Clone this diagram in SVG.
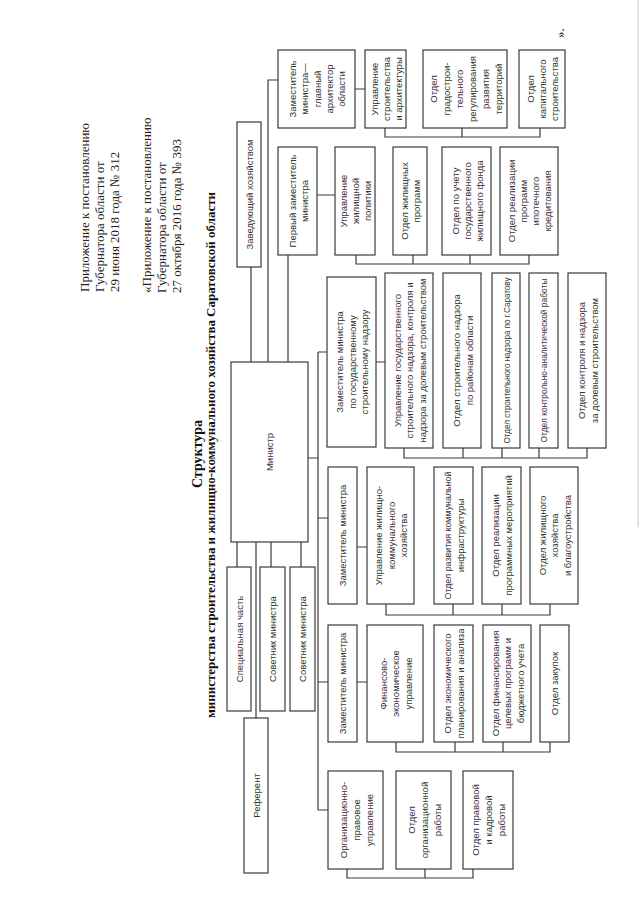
<svg xmlns="http://www.w3.org/2000/svg" width="640" height="905" viewBox="0 0 640 905">
<style>
.bg{fill:#fff}
.box{fill:#fff;stroke:#3a3a3a;stroke-width:1.2}
.c{stroke:#3a3a3a;stroke-width:1.2;fill:none}
.t{font-family:"Liberation Sans",Arial,sans-serif;font-size:9.5px;fill:#333;text-anchor:middle;dominant-baseline:central}
.h{font-family:"Liberation Serif","Times New Roman",serif;font-size:13px;fill:#222;dominant-baseline:central}
.ti{font-family:"Liberation Serif","Times New Roman",serif;font-weight:bold;fill:#111;text-anchor:middle;dominant-baseline:central}
</style>
<rect class="bg" x="0" y="0" width="640" height="905"/>
<line x1="638" y1="0" x2="638" y2="527" stroke="#c8c8c8" stroke-width="1"/>

<g id="header">
<text class="h" transform="translate(84,292) rotate(-90)">Приложение к постановлению</text>
<text class="h" transform="translate(99,292) rotate(-90)">Губернатора области от</text>
<text class="h" transform="translate(114,292) rotate(-90)">29 июня 2018 года № 312</text>
<text class="h" transform="translate(146,293) rotate(-90)">«Приложение к постановлению</text>
<text class="h" transform="translate(161,293) rotate(-90)">Губернатора области от</text>
<text class="h" transform="translate(176,293) rotate(-90)">27 октября 2016 года № 393</text>
<text class="ti" font-size="14" transform="translate(197,454) rotate(-90)">Структура</text>
<text class="ti" font-size="12.5" textLength="526" lengthAdjust="spacingAndGlyphs" transform="translate(211,455) rotate(-90)">министерства строительства и жилищно-коммунального хозяйства Саратовской области</text>
<text class="h" font-size="9" fill="#555" transform="translate(559,38) rotate(-90)">».</text>
</g>

<g id="connectors">
<path class="c" d="M251,267V362 M268,362V80H278 M288,255V362"/>
<path class="c" d="M355,89H365 M385,128V137H540V128 M462,128V137"/>
<path class="c" d="M317,195H335 M356,255V264H529V255 M413,255V264 M470,255V264"/>
<path class="c" d="M308,458H318 M318,352V810 M318,352H327 M318,518H328 M318,682H328 M318,810H328"/>
<path class="c" d="M376,362H385 M404,448V458H587V448 M463,448V458 M502,448V458 M539,448V458"/>
<path class="c" d="M357,547H367 M386,604V615H550V604 M453,604V615 M502,604V615"/>
<path class="c" d="M357,682H367 M396,742V752H550V742 M455,742V752 M503,742V752"/>
<path class="c" d="M347,869V878H473V869 M425,869V878"/>
<path class="c" d="M237,542V567 M256,542V718 M271,542V567 M301,542V567"/>
</g>

<g id="zaveduyushchiy"><rect class="box" x="237" y="122" width="24" height="145"/>
<text class="t" transform="translate(249,194.5) rotate(-90)">Заведующий хозяйством</text></g>

<g id="zam-arkhitektor"><rect class="box" x="278" y="50" width="77" height="78"/>
<text class="t" transform="translate(316.5,89) rotate(-90)"><tspan x="0" y="-24.6">Заместитель</tspan><tspan x="0" y="-12.3">министра—</tspan><tspan x="0" y="0">главный</tspan><tspan x="0" y="12.3">архитектор</tspan><tspan x="0" y="24.6">области</tspan></text></g>

<g id="upr-stroitelstva"><rect class="box" x="365" y="50" width="41" height="78"/>
<text class="t" transform="translate(385.5,89) rotate(-90)"><tspan x="0" y="-12">Управление</tspan><tspan x="0" y="0">строительства</tspan><tspan x="0" y="12">и архитектуры</tspan></text></g>

<g id="otdel-gradostr"><rect class="box" x="423" y="50" width="84" height="78"/>
<text class="t" transform="translate(465,89) rotate(-90)"><tspan x="0" y="-32.5">Отдел</tspan><tspan x="0" y="-19.5">градострои-</tspan><tspan x="0" y="-6.5">тельного</tspan><tspan x="0" y="6.5">регулирования</tspan><tspan x="0" y="19.5">развития</tspan><tspan x="0" y="32.5">территорий</tspan></text></g>

<g id="otdel-kapstroy"><rect class="box" x="519" y="50" width="46" height="78"/>
<text class="t" transform="translate(542,89) rotate(-90)"><tspan x="0" y="-12">Отдел</tspan><tspan x="0" y="0">капитального</tspan><tspan x="0" y="12">строительства</tspan></text></g>

<g id="perviy-zam"><rect class="box" x="278" y="147" width="39" height="108"/>
<text class="t" transform="translate(297.5,201) rotate(-90)"><tspan x="0" y="-6">Первый заместитель</tspan><tspan x="0" y="6">министра</tspan></text></g>

<g id="upr-zhil-politiki"><rect class="box" x="335" y="147" width="40" height="108"/>
<text class="t" transform="translate(355,201) rotate(-90)"><tspan x="0" y="-12">Управление</tspan><tspan x="0" y="0">жилищной</tspan><tspan x="0" y="12">политики</tspan></text></g>

<g id="otdel-zhil-programm"><rect class="box" x="393" y="147" width="34" height="108"/>
<text class="t" transform="translate(410,201) rotate(-90)"><tspan x="0" y="-6">Отдел жилищных</tspan><tspan x="0" y="6">программ</tspan></text></g>

<g id="otdel-ucheta"><rect class="box" x="442" y="147" width="49" height="108"/>
<text class="t" transform="translate(466.5,201) rotate(-90)"><tspan x="0" y="-12">Отдел по учету</tspan><tspan x="0" y="0">государственного</tspan><tspan x="0" y="12">жилищного фонда</tspan></text></g>

<g id="otdel-ipoteki"><rect class="box" x="500" y="147" width="58" height="108"/>
<text class="t" transform="translate(529,201) rotate(-90)"><tspan x="0" y="-18">Отдел реализации</tspan><tspan x="0" y="-6">программ</tspan><tspan x="0" y="6">ипотечного</tspan><tspan x="0" y="18">кредитования</tspan></text></g>

<g id="ministr"><rect class="box" x="231" y="362" width="77" height="180"/>
<text class="t" font-size="10" transform="translate(269.5,452) rotate(-90)">Министр</text></g>

<g id="zam-nadzor"><rect class="box" x="327" y="277" width="49" height="170"/>
<text class="t" transform="translate(351.5,362) rotate(-90)"><tspan x="0" y="-12.5">Заместитель министра</tspan><tspan x="0" y="0">по государственному</tspan><tspan x="0" y="12.5">строительному надзору</tspan></text></g>

<g id="upr-gosnadzora"><rect class="box" x="385" y="273" width="48" height="175"/>
<text class="t" transform="translate(409,360.5) rotate(-90)"><tspan x="0" y="-12.5">Управление государственного</tspan><tspan x="0" y="0">строительного надзора, контроля и</tspan><tspan x="0" y="12.5">надзора за долевым строительством</tspan></text></g>

<g id="otdel-nadzor-rayony"><rect class="box" x="443" y="273" width="38" height="175"/>
<text class="t" transform="translate(462,360.5) rotate(-90)"><tspan x="0" y="-6.5">Отдел строительного надзора</tspan><tspan x="0" y="6.5">по районам области</tspan></text></g>

<g id="otdel-nadzor-saratov"><rect class="box" x="492" y="273" width="28" height="175"/>
<text class="t" textLength="166" lengthAdjust="spacingAndGlyphs" transform="translate(506,360.5) rotate(-90)">Отдел строительного надзора по г.Саратову</text></g>

<g id="otdel-kontrol-analit"><rect class="box" x="529" y="273" width="29" height="175"/>
<text class="t" textLength="164" lengthAdjust="spacingAndGlyphs" transform="translate(543.5,360.5) rotate(-90)">Отдел контрольно-аналитической работы</text></g>

<g id="otdel-dolevoe"><rect class="box" x="568" y="273" width="38" height="175"/>
<text class="t" transform="translate(587,360.5) rotate(-90)"><tspan x="0" y="-6.5">Отдел контроля и надзора</tspan><tspan x="0" y="6.5">за долевым строительством</tspan></text></g>

<g id="zam-zhkh"><rect class="box" x="328" y="467" width="29" height="137"/>
<text class="t" transform="translate(342.5,535.5) rotate(-90)">Заместитель министра</text></g>

<g id="upr-zhkh"><rect class="box" x="367" y="467" width="47" height="137"/>
<text class="t" transform="translate(390.5,535.5) rotate(-90)"><tspan x="0" y="-12.5">Управление жилищно-</tspan><tspan x="0" y="0">коммунального</tspan><tspan x="0" y="12.5">хозяйства</tspan></text></g>

<g id="otdel-kommunal"><rect class="box" x="434" y="467" width="39" height="137"/>
<text class="t" transform="translate(453.5,535.5) rotate(-90)"><tspan x="0" y="-6.5" textLength="128" lengthAdjust="spacingAndGlyphs">Отдел развития коммунальной</tspan><tspan x="0" y="6.5">инфраструктуры</tspan></text></g>

<g id="otdel-programm-meropr"><rect class="box" x="482" y="467" width="39" height="137"/>
<text class="t" transform="translate(501.5,535.5) rotate(-90)"><tspan x="0" y="-6.5">Отдел реализации</tspan><tspan x="0" y="6.5">программных мероприятий</tspan></text></g>

<g id="otdel-blagoustr"><rect class="box" x="530" y="467" width="48" height="137"/>
<text class="t" transform="translate(554,535.5) rotate(-90)"><tspan x="0" y="-12.5">Отдел жилищного</tspan><tspan x="0" y="0">хозяйства</tspan><tspan x="0" y="12.5">и благоустройства</tspan></text></g>

<g id="zam-fin"><rect class="box" x="328" y="625" width="29" height="117"/>
<text class="t" transform="translate(342.5,683.5) rotate(-90)">Заместитель министра</text></g>

<g id="fin-econom"><rect class="box" x="367" y="625" width="56" height="117"/>
<text class="t" transform="translate(395,683.5) rotate(-90)"><tspan x="0" y="-12.5">Финансово-</tspan><tspan x="0" y="0">экономическое</tspan><tspan x="0" y="12.5">управление</tspan></text></g>

<g id="otdel-econ-plan"><rect class="box" x="434" y="625" width="39" height="117"/>
<text class="t" transform="translate(453.5,683.5) rotate(-90)"><tspan x="0" y="-6.5">Отдел экономического</tspan><tspan x="0" y="6.5">планирования и анализа</tspan></text></g>

<g id="otdel-finans"><rect class="box" x="483" y="625" width="48" height="117"/>
<text class="t" transform="translate(507,683.5) rotate(-90)"><tspan x="0" y="-12.5">Отдел финансирования</tspan><tspan x="0" y="0">целевых программ и</tspan><tspan x="0" y="12.5">бюджетного учета</tspan></text></g>

<g id="otdel-zakupok"><rect class="box" x="540" y="625" width="29" height="117"/>
<text class="t" transform="translate(554.5,683.5) rotate(-90)">Отдел закупок</text></g>

<g id="org-pravovoe"><rect class="box" x="328" y="771" width="55" height="98"/>
<text class="t" transform="translate(355.5,820) rotate(-90)"><tspan x="0" y="-13">Организационно-</tspan><tspan x="0" y="0">правовое</tspan><tspan x="0" y="13">управление</tspan></text></g>

<g id="otdel-org-raboty"><rect class="box" x="396" y="771" width="55" height="98"/>
<text class="t" transform="translate(423.5,820) rotate(-90)"><tspan x="0" y="-13">Отдел</tspan><tspan x="0" y="0">организационной</tspan><tspan x="0" y="13">работы</tspan></text></g>

<g id="otdel-pravovoy"><rect class="box" x="463" y="771" width="50" height="98"/>
<text class="t" transform="translate(488,820) rotate(-90)"><tspan x="0" y="-13">Отдел правовой</tspan><tspan x="0" y="0">и кадровой</tspan><tspan x="0" y="13">работы</tspan></text></g>

<g id="spec-chast"><rect class="box" x="227" y="567" width="24" height="144"/>
<text class="t" transform="translate(239,639) rotate(-90)">Специальная часть</text></g>

<g id="sovetnik-1"><rect class="box" x="260" y="567" width="25" height="144"/>
<text class="t" transform="translate(272.5,639) rotate(-90)">Советник министра</text></g>

<g id="sovetnik-2"><rect class="box" x="290" y="567" width="25" height="144"/>
<text class="t" transform="translate(302.5,639) rotate(-90)">Советник министра</text></g>

<g id="referent"><rect class="box" x="244" y="718" width="24" height="155"/>
<text class="t" transform="translate(256,795.5) rotate(-90)">Референт</text></g>
</svg>
